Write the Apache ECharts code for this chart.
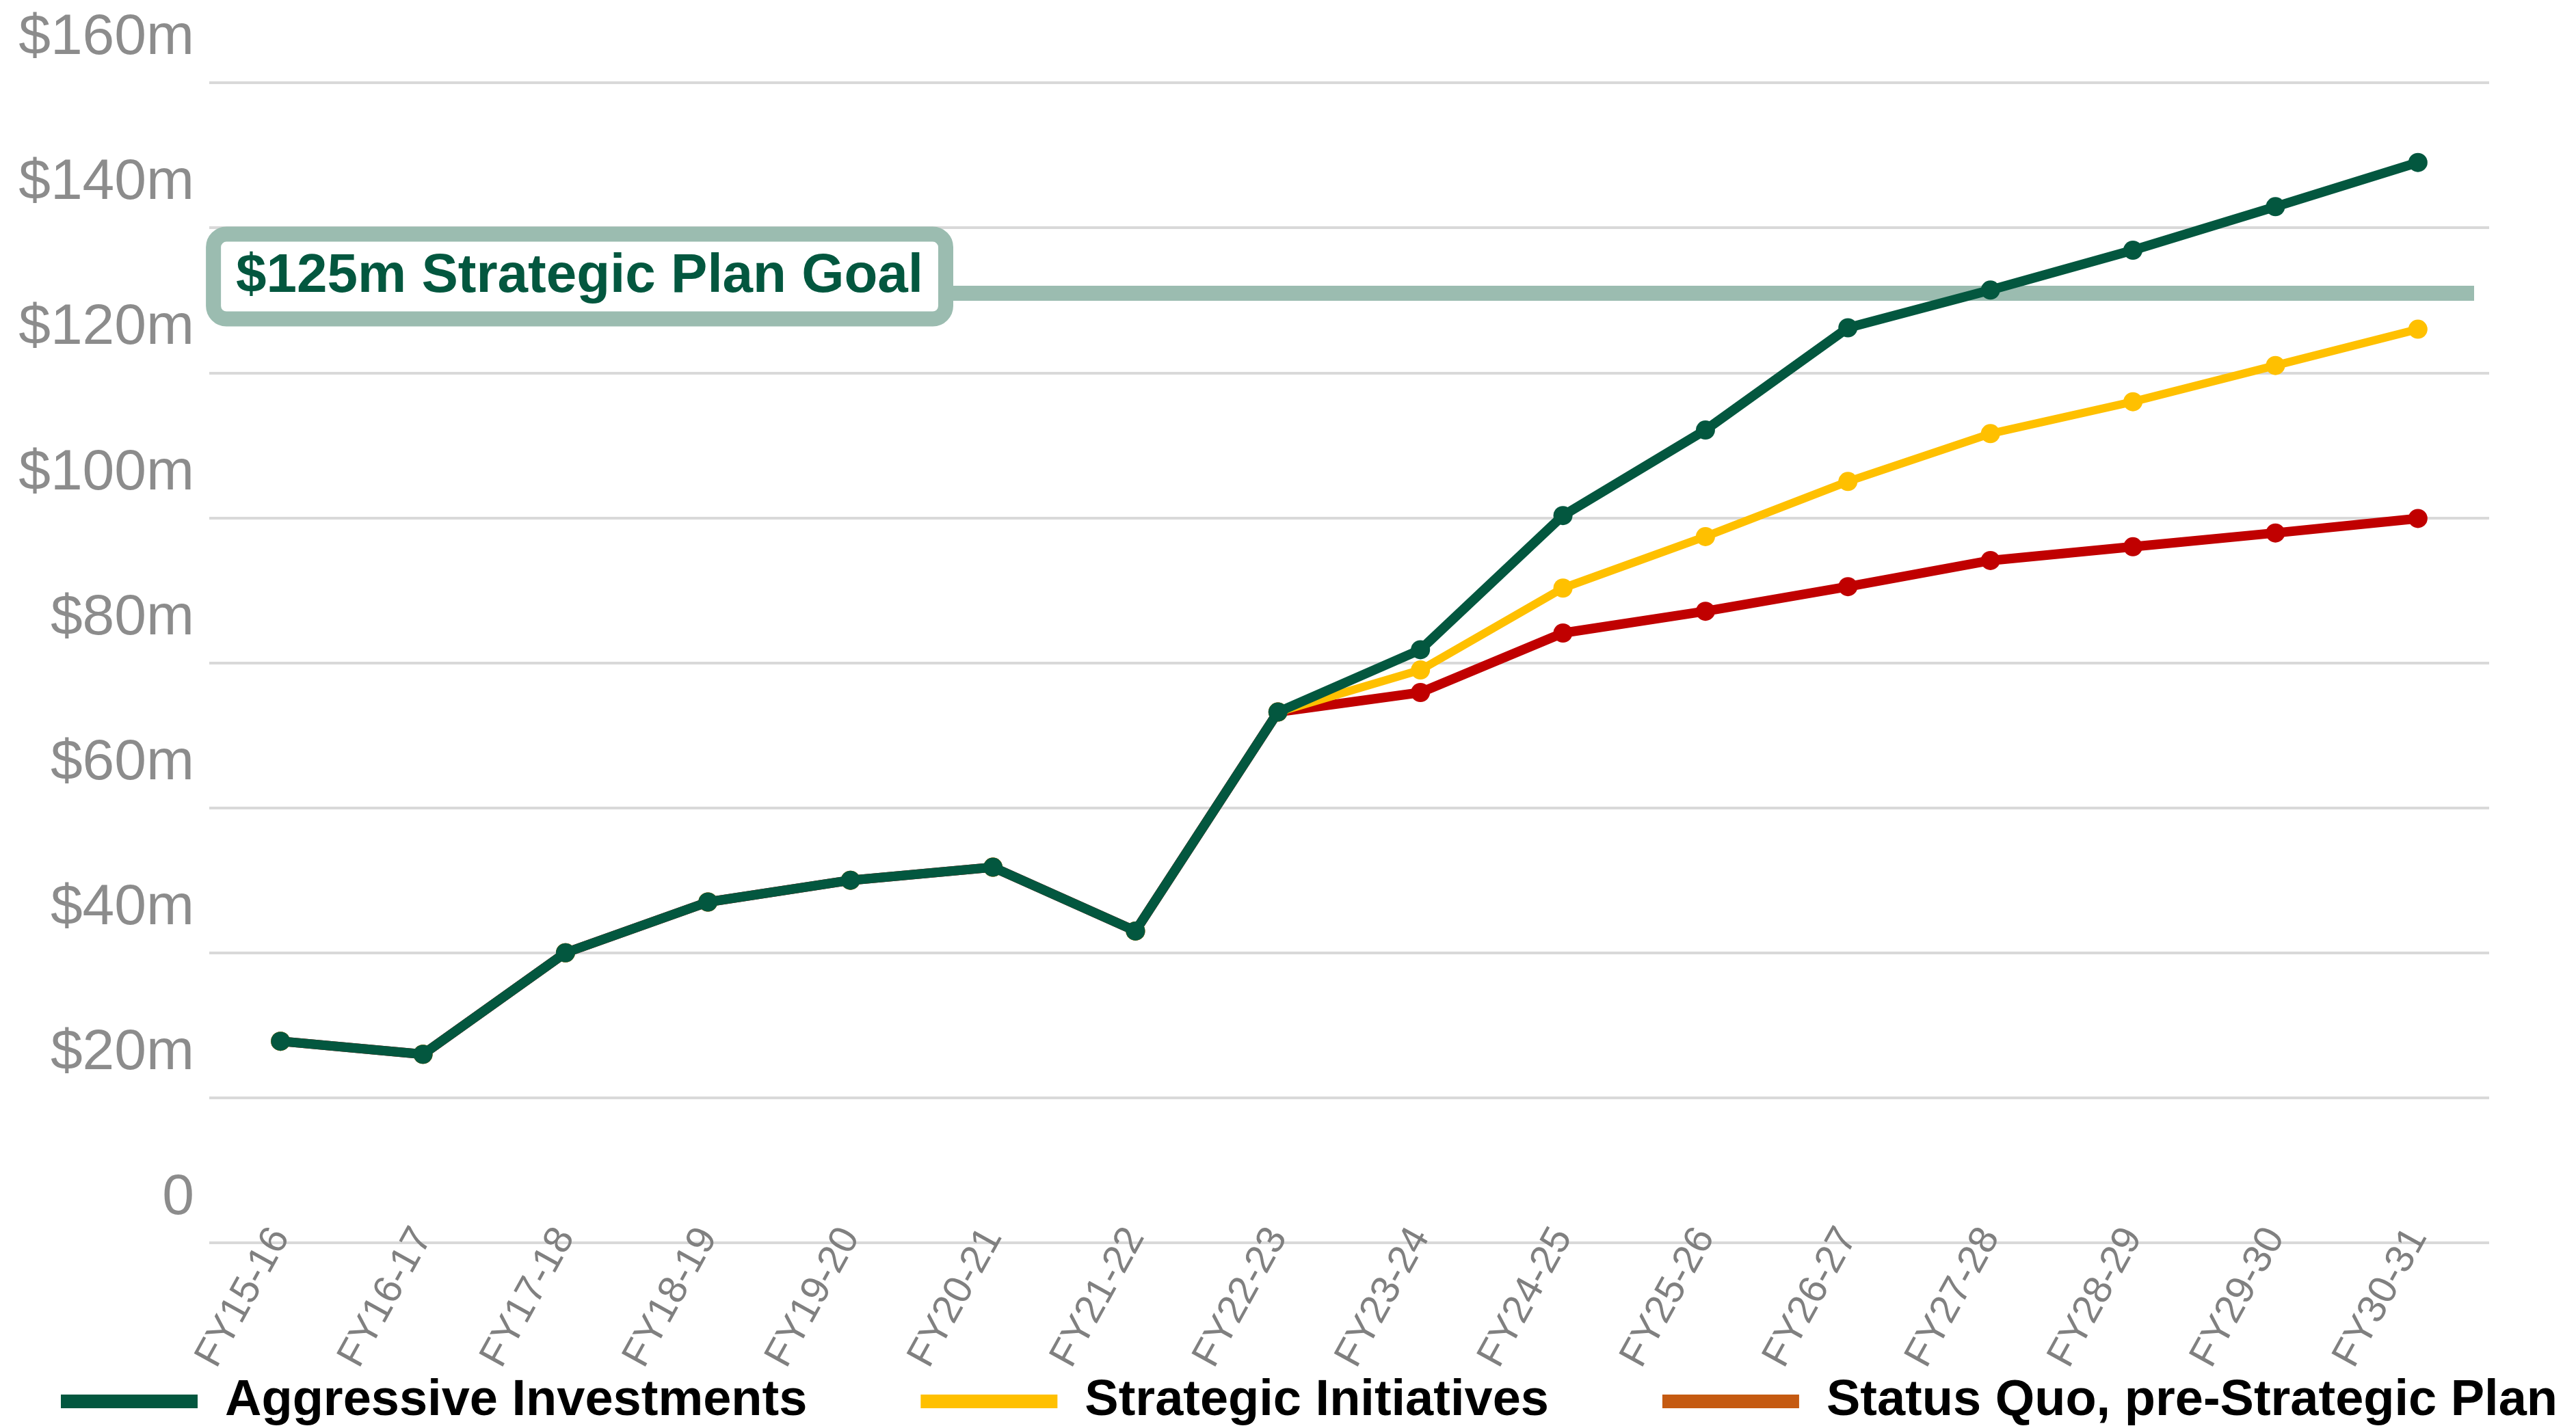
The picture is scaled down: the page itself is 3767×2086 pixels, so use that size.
<!DOCTYPE html>
<html>
<head>
<meta charset="utf-8">
<title>Revenue projections</title>
<script src="https://cdn.jsdelivr.net/npm/echarts@6/dist/echarts.min.js"></script>
<style>
  html, body { margin: 0; padding: 0; background: #fff; }
  #chart { width: 3767px; height: 2086px; }
</style>
</head>
<body>
<div id="chart"></div>
<script>
// categories (fiscal years)
const years = [
  'FY15-16', 'FY16-17', 'FY17-18', 'FY18-19', 'FY19-20', 'FY20-21', 'FY21-22', 'FY22-23',
  'FY23-24', 'FY24-25', 'FY25-26', 'FY26-27', 'FY27-28', 'FY28-29', 'FY29-30', 'FY30-31',
]

// values in $m
const aggressive = [27.8, 26.0, 40.0, 47.0, 50.0, 51.8, 43.0, 73.2, 81.8, 100.3, 112.1, 126.2, 131.4, 136.9, 142.9, 149.0]
const strategic = [27.8, 26.0, 40.0, 47.0, 50.0, 51.8, 43.0, 73.2, 79.0, 90.3, 97.4, 105.0, 111.6, 116.0, 121.0, 126.0]
const statusQuo = [27.8, 26.0, 40.0, 47.0, 50.0, 51.8, 43.0, 73.2, 75.9, 84.1, 87.1, 90.5, 94.1, 96.0, 97.9, 99.9]

const seriesNames = ['Aggressive Investments', 'Strategic Initiatives', 'Status Quo, pre-Strategic Plan']

// goal band (drawn where the picture puts it) and its caption
const goalLevel = 131
const goalText = '$125m Strategic Plan Goal'

// y axis ticks
const yMin = 0
const yMax = 160
const yStep = 20

const GREEN = '#03573f'
const YELLOW = '#ffc000'
const RED = '#c00000'
const ORANGE = '#c55a11'
const SAGE = '#9bbcb0'

const chart = echarts.init(document.getElementById('chart'))

function lineSeries(name, data, color, width, z) {
  return {
    name,
    type: 'line',
    data,
    z,
    symbol: 'circle',
    symbolSize: 28,
    lineStyle: { color, width },
    itemStyle: { color },
    emphasis: { disabled: true },
  }
}

const options = {
  animation: false,
  backgroundColor: '#fff',
  grid: {
    left: 306,
    right: 127,
    top: 121,
    bottom: 268,
    containLabel: false,
  },
  legend: {
    left: 84,
    top: 2008,
    icon: 'rect',
    itemWidth: 200,
    itemHeight: 20,
    itemGap: 166,
    textStyle: {
      fontFamily: 'Liberation Sans',
      fontWeight: 'bold',
      fontSize: 74,
      color: '#000',
      padding: [0, 0, 0, 35],
    },
    data: [
      { name: seriesNames[0] },
      { name: seriesNames[1] },
      { name: seriesNames[2], itemStyle: { color: ORANGE } },
    ],
  },
  xAxis: {
    type: 'category',
    data: years,
    boundaryGap: true,
    axisLine: { show: false },
    axisTick: { show: false },
    axisLabel: {
      rotate: 61,
      margin: -17,
      fontFamily: 'Liberation Sans',
      fontSize: 58,
      color: '#808080',
    },
  },
  yAxis: {
    type: 'value',
    min: yMin,
    max: yMax,
    interval: yStep,
    axisLine: { show: false },
    axisTick: { show: false },
    splitLine: { lineStyle: { color: '#d9d9d9', width: 4 } },
    axisLabel: {
      margin: 22,
      fontFamily: 'Liberation Sans',
      fontSize: 84,
      lineHeight: 84,
      color: '#8c8c8c',
      verticalAlign: 'bottom',
      padding: [0, 0, 23, 0],
      formatter: (v) => (v === 0 ? '0' : '$' + v + 'm'),
    },
  },
  series: [
    lineSeries(seriesNames[0], aggressive, GREEN, 14, 5),
    lineSeries(seriesNames[1], strategic, YELLOW, 12, 4),
    Object.assign(lineSeries(seriesNames[2], statusQuo, RED, 14, 3), {
      markLine: {
        silent: true,
        z: 1,
        symbol: ['none', 'none'],
        lineStyle: { color: SAGE, width: 22, type: 'solid', opacity: 1 },
        label: {
          show: true,
          position: 'start',
          distance: 2,
          padding: [0, 0, 48, 0],
          formatter: '{box|' + goalText + '}',
          rich: {
            box: {
              fontFamily: 'Liberation Sans',
              fontWeight: 'bold',
              fontSize: 80,
              lineHeight: 80,
              color: GREEN,
              backgroundColor: '#fff',
              borderColor: SAGE,
              borderWidth: 22,
              borderRadius: 8,
              padding: [11, 22, 11, 22],
            },
          },
        },
        data: [[
          { yAxis: goalLevel, x: 1374 },
          { yAxis: goalLevel, x: 3618 },
        ]],
      },
    }),
  ],
}

chart.setOption(options)
</script>
</body>
</html>
